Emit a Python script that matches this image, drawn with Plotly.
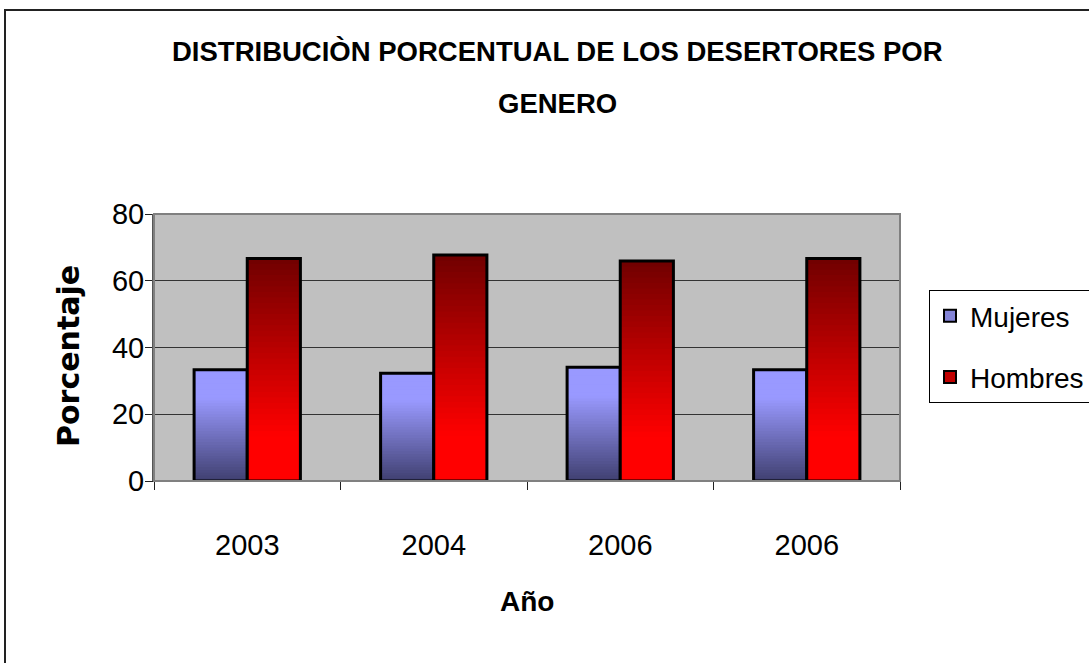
import plotly.graph_objects as go

# ---- data ----
years = ["2003", "2004", "2006", "2006"]
mujeres = [33.3, 32.3, 34.1, 33.3]
hombres = [66.7, 67.7, 65.9, 66.7]
y_ticks = [0, 20, 40, 60, 80]

title_line1 = "DISTRIBUCIÒN PORCENTUAL DE LOS DESERTORES POR"
title_line2 = "GENERO"
x_title = "Año"
y_title = "Porcentaje"

xpos = list(range(len(years)))
N = 40


def lerp(c0, c1, t):
    return "rgb(%d,%d,%d)" % tuple(round(a + (b - a) * t) for a, b in zip(c0, c1))


def muj_color(f):
    t = min(1.0, f / 0.75)
    return lerp((64, 64, 112), (153, 153, 255), t)


def hom_color(f):
    t = max(0.0, (f - 0.2) / 0.8)
    return lerp((255, 0, 0), (112, 0, 0), t)


fig = go.Figure()

for name, vals, cfun, grp in [("Mujeres", mujeres, muj_color, "M"),
                              ("Hombres", hombres, hom_color, "H")]:
    for k in range(N):
        bases = [v * k / N for v in vals]
        heights = [min(2.5 * v / N, v - b) for v, b in zip(vals, bases)]
        fig.add_trace(go.Bar(
            x=xpos, y=heights, base=bases,
            marker=dict(color=cfun((k + 0.5) / N), line=dict(width=0)),
            offsetgroup=grp, showlegend=False, hoverinfo="skip",
        ))
    # outline
    fig.add_trace(go.Bar(
        x=xpos, y=vals, name=name, offsetgroup=grp,
        marker=dict(color="rgba(0,0,0,0)", line=dict(color="black", width=3)),
        showlegend=False,
    ))

# legend entries
fig.add_trace(go.Bar(x=[None], y=[None], name="Mujeres", offsetgroup="M",
                     legendgroup="a",
                     marker=dict(color="#8585D8", line=dict(color="black", width=2))))
fig.add_trace(go.Bar(x=[None], y=[None], name="Hombres", offsetgroup="H",
                     legendgroup="b",
                     marker=dict(color="#C00000", line=dict(color="black", width=2))))

W, H = 1089, 663
L, R, T, B = 154, W - 900, 214, H - 481
PW, PH = 900 - 154, 481 - 214


def px_x(p):
    return (p - L) / PW


def px_y(p):
    return (481 - p) / PH


fig.update_layout(
    width=W, height=H,
    margin=dict(l=L, r=R, t=T, b=B, pad=0, autoexpand=False),
    paper_bgcolor="white", plot_bgcolor="#C0C0C0",
    barmode="group", bargap=0.43, bargroupgap=0,
    font=dict(family="Liberation Sans, Arial, sans-serif", color="black"),
    showlegend=True,
    legend=dict(xref="container", yref="container",
                x=929 / W, y=1 - 290 / H, xanchor="left", yanchor="top",
                bgcolor="white", bordercolor="black", borderwidth=1,
                font=dict(size=28, family="Liberation Sans, Arial"),
                tracegroupgap=22, itemsizing="constant"),
    xaxis=dict(
        range=[-0.5, len(years) - 0.5],
        tickmode="array", tickvals=xpos, ticktext=years,
        ticks="", tickfont=dict(size=29),
        ticklabelstandoff=38,
        showgrid=False, zeroline=False,
        showline=True, linecolor="#222", linewidth=1,
        minor=dict(tickmode="array", tickvals=[i - 0.5 for i in range(len(years) + 1)],
                   ticks="outside", ticklen=8, tickcolor="#222", tickwidth=1,
                   showgrid=False),
    ),
    yaxis=dict(
        range=[0, 80], tickmode="array", tickvals=y_ticks,
        ticks="outside", ticklen=7, tickcolor="#222",
        tickfont=dict(size=29), ticklabelstandoff=-5,
        showgrid=True, gridcolor="#333", gridwidth=1,
        zeroline=False, showline=True, linecolor="#555", linewidth=2,
    ),
    annotations=[
        dict(text=title_line1, x=px_x(557), y=px_y(51), xref="paper", yref="paper",
             showarrow=False, font=dict(size=27.5, family="Liberation Sans, Arial", weight="bold"),
             xanchor="center", yanchor="middle"),
        dict(text=title_line2, x=px_x(557), y=px_y(103), xref="paper", yref="paper",
             showarrow=False, font=dict(size=27.5, family="Liberation Sans, Arial", weight="bold"),
             xanchor="center", yanchor="middle"),
        dict(text=x_title, x=px_x(527), y=px_y(601), xref="paper", yref="paper",
             showarrow=False, font=dict(size=28, family="Liberation Sans, Arial", weight="bold"),
             xanchor="center", yanchor="middle"),
        dict(text=y_title, x=px_x(68), y=px_y(356), xref="paper", yref="paper",
             showarrow=False, textangle=-90,
             font=dict(size=30, family="DejaVu Sans", weight="bold"),
             xanchor="center", yanchor="middle"),
    ],
    shapes=[
        dict(type="rect", xref="paper", yref="paper", x0=0, x1=1, y0=0, y1=1,
             line=dict(color="#808080", width=2), layer="above"),
        dict(type="rect", xref="paper", yref="paper",
             x0=px_x(5), x1=px_x(1200), y0=px_y(800), y1=px_y(10),
             line=dict(color="#222", width=2), layer="below"),
    ],
)

fig.write_html("out.html", config={"displayModeBar": False},
               post_script="document.body.style.margin='0';document.body.style.overflow='hidden';")
